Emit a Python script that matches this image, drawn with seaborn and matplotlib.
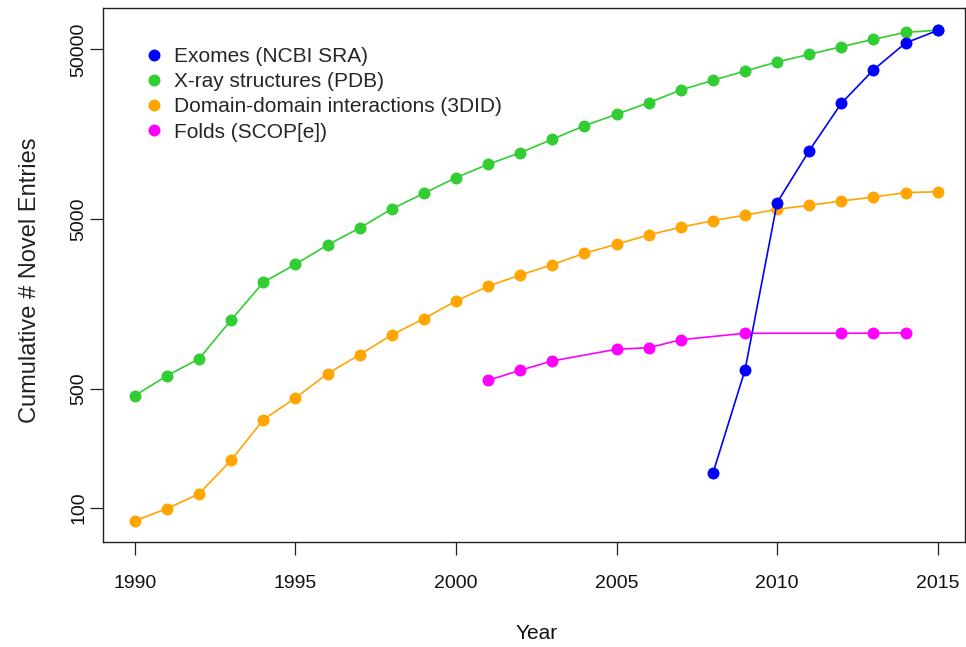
import numpy as np
import pandas as pd
import matplotlib
matplotlib.use("Agg")
import matplotlib.pyplot as plt
from matplotlib.lines import Line2D
import seaborn as sns

# values (log scale)
years = list(range(1990, 2016))
xray = [458, 600, 755, 1277, 2128, 2717, 3530, 4444, 5750, 7110, 8790, 10540, 12330,
        14790, 17780, 20750, 24270, 28840, 32890, 37310, 42170, 46770, 51880, 57310,
        63060, 64760]
ddi = [84, 99, 121, 191, 330, 444, 617, 798, 1042, 1300, 1652, 2018, 2350, 2704, 3155,
       3565, 4045, 4490, 4910, 5285, 5730, 6040, 6410, 6760, 7180, 7260]
exome_years = [2008, 2009, 2010, 2011, 2012, 2013, 2014, 2015]
exomes = [160, 649, 6270, 12680, 24100, 37930, 54580, 64700]
fold_years = [2001, 2002, 2003, 2005, 2006, 2007, 2009, 2012, 2013, 2014]
folds = [564, 646, 733, 859, 877, 977, 1067, 1067, 1067, 1075]

labels = ["Exomes (NCBI SRA)", "X-ray structures (PDB)",
          "Domain-domain interactions (3DID)", "Folds (SCOP[e])"]
colors = ["#0000FF", "#32CD32", "#FFA500", "#FF00FF"]

df = pd.concat([
    pd.DataFrame({"Year": exome_years, "Entries": exomes, "Source": labels[0]}),
    pd.DataFrame({"Year": years, "Entries": xray, "Source": labels[1]}),
    pd.DataFrame({"Year": years, "Entries": ddi, "Source": labels[2]}),
    pd.DataFrame({"Year": fold_years, "Entries": folds, "Source": labels[3]}),
])

sns.set_style("ticks")
plt.rcParams['font.family'] = ['Liberation Sans', 'DejaVu Sans']

fig = plt.figure(figsize=(9.66, 6.47), dpi=100)
ax = fig.add_axes([0.1063, 0.1628, 0.8927, 0.8244])

pal = dict(zip(labels, colors))
# draw order: green, orange, magenta, blue on top
sns.lineplot(data=df, x="Year", y="Entries", hue="Source",
             hue_order=[labels[1], labels[2], labels[3], labels[0]],
             palette=pal, marker="o", markersize=8.6, markeredgewidth=0,
             linewidth=1.2, errorbar=None, legend=False, ax=ax)

ax.set_yscale("log")
ax.set_xlim(1989.0, 2015.85)
ax.set_ylim(63.3, 87300)
ax.set_yticks([100, 500, 5000, 50000])
ax.set_yticklabels(["100", "500", "5000", "50000"], rotation=90, va="center")
ax.yaxis.set_minor_locator(matplotlib.ticker.NullLocator())
ax.set_xticks([1990, 1995, 2000, 2005, 2010, 2015])

ax.tick_params(axis="both", direction="out", length=9.5, width=0.9, color="#222222",
               labelsize=14, labelcolor="#111111")
ax.tick_params(axis="x", pad=14.5)
ax.tick_params(axis="y", pad=1.5)

for s in ax.spines.values():
    s.set_visible(True)
    s.set_linewidth(1.0)
    s.set_color("#222222")

ax.set_xlabel("Year", fontsize=15, color="#111111")
ax.set_ylabel("Cumulative # Novel Entries", fontsize=17, color="#222222")
ax.xaxis.set_label_coords(0.503, -0.154)
ax.yaxis.set_label_coords(-0.071, 0.49)

handles = [Line2D([], [], marker="o", color=c, linestyle="", markersize=8.6,
                  markeredgewidth=0) for c in colors]
ax.legend(handles, labels, loc="upper left", bbox_to_anchor=(0.0474, 0.9275),
          frameon=False, fontsize=15, handlelength=1.0, handletextpad=0.46,
          labelspacing=0.3, borderpad=0, borderaxespad=0)

fig.savefig("out.png", dpi=100)
